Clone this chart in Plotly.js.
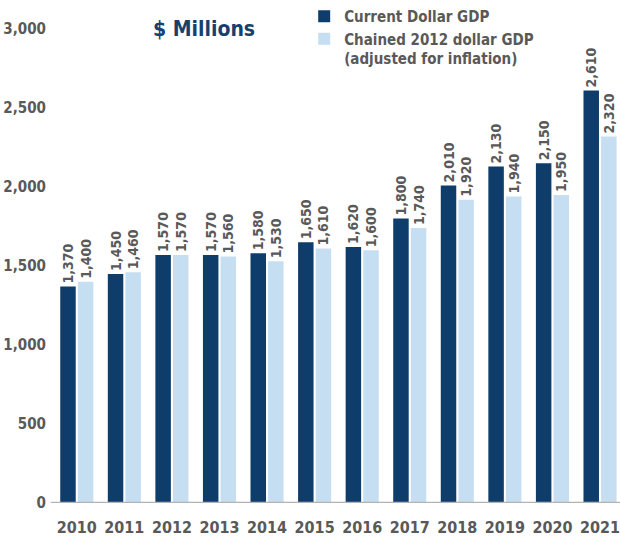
<!DOCTYPE html>
<html>
<head>
<meta charset="utf-8">
<script src="https://cdn.plot.ly/plotly-3.0.1.min.js"></script>
<style>html,body{margin:0;padding:0;background:#fff;}#chart{width:620px;height:544px;}</style>
</head>
<body>
<div id="chart"></div>
<script>
const years = ['2010','2011','2012','2013','2014','2015','2016','2017','2018','2019','2020','2021'];
const currentGDP = [1370,1450,1570,1570,1580,1650,1620,1800,2010,2130,2150,2610];
const chainedGDP = [1400,1460,1570,1560,1530,1610,1600,1740,1920,1940,1950,2320];
const seriesNames = ['Current Dollar GDP','Chained 2012 dollar GDP<br>(adjusted for inflation)'];
const yTicks = [0,500,1000,1500,2000,2500,3000];
const yTickText = ['0','500','1,000','1,500','2,000','2,500','3,000'];

const FONT = '"DejaVu Sans Condensed", "Liberation Sans Narrow", Arial, sans-serif';
const GRAY = '#595959';
const fmt = v => v.toLocaleString('en-US');

const common = {
  type: 'bar',
  x: years,
  textposition: 'outside',
  textangle: -90,
  cliponaxis: false,
  constraintext: 'none',
  textfont: {family: FONT, size: 14, color: GRAY, weight: 'bold'},
  hoverinfo: 'skip'
};

const data = [
  Object.assign({}, common, {
    name: seriesNames[0], y: currentGDP, text: currentGDP.map(fmt),
    marker: {color: '#0E3D6B'}
  }),
  Object.assign({}, common, {
    name: seriesNames[1], y: chainedGDP, text: chainedGDP.map(fmt),
    marker: {color: '#C6DEF1'}
  })
];

const layout = {
  width: 620, height: 544,
  margin: {l: 53, r: 0, t: 29, b: 41},
  paper_bgcolor: '#fff', plot_bgcolor: '#fff',
  font: {family: FONT, color: GRAY, size: 16, weight: 'bold'},
  barmode: 'group',
  bargap: 0.26,
  bargroupgap: 0.12,
  showlegend: true,
  legend: {
    x: 0.443, y: 1.062, xanchor: 'left', yanchor: 'top',
    font: {family: FONT, size: 15, color: GRAY, weight: 'bold'},
    bgcolor: 'rgba(0,0,0,0)', tracegroupgap: 0, itemwidth: 30,
    valign: 'top'
  },
  xaxis: {
    type: 'category', range: [-0.5, 11.42],
    showline: false, showgrid: false, zeroline: false, ticks: '',
    ticklabelstandoff: 13,
    tickfont: {family: FONT, size: 16, color: GRAY, weight: 'bold'},
    fixedrange: true
  },
  yaxis: {
    range: [0, 3000], tickvals: yTicks, ticktext: yTickText,
    showgrid: false, zeroline: false, showline: false, ticks: '',
    ticklabelstandoff: 6,
    tickfont: {family: FONT, size: 15, color: GRAY, weight: 'bold'},
    fixedrange: true
  },
  shapes: [{
    type: 'line', xref: 'paper', yref: 'y', x0: -0.004, x1: 1, y0: 0, y1: 0,
    line: {color: '#B3B3B3', width: 2.5}
  }],
  annotations: [{
    text: '$ Millions', xref: 'paper', yref: 'paper',
    x: 0.267, y: 1.0, xanchor: 'center', yanchor: 'middle', showarrow: false,
    font: {family: FONT, size: 21, color: '#17406D', weight: 'bold'}
  }]
};

Plotly.newPlot('chart', data, layout, {displayModeBar: false, staticPlot: true});
</script>
</body>
</html>
